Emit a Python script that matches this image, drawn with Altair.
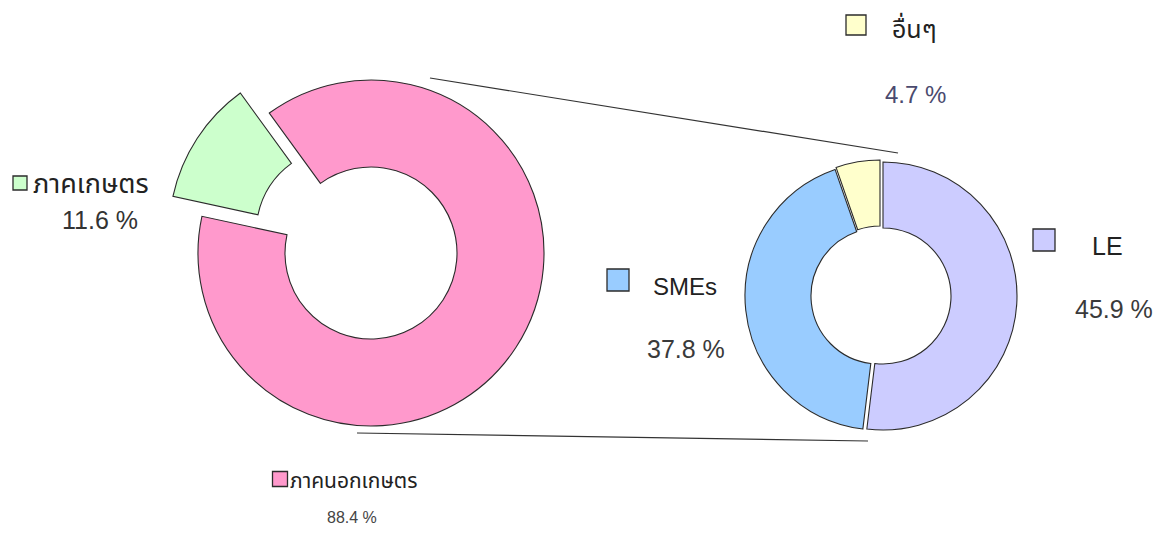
import math
import altair as alt
import pandas as pd

# ---------------- data ----------------
left_cats = ["ภาคนอกเกษตร", "ภาคเกษตร"]
left_vals = [88.4, 11.6]
right_cats = ["LE", "SMEs", "อื่นๆ"]
right_vals = [45.9, 37.8, 4.7]

# ---------------- layout / style (page px minus 8px body margin) ----------------
M = 8
W, H = 1163 - 2 * M, 545 - 2 * M
FONT = "Liberation Sans, Arial, Noto Sans Thai, sans-serif"
STROKE = "#2b2b2b"
colors = {"ภาคนอกเกษตร": "#FF99CC", "ภาคเกษตร": "#CCFFCC",
          "LE": "#CCCCFF", "SMEs": "#99CCFF", "อื่นๆ": "#FFFFCC"}

L_CX, L_CY, L_R, L_R2 = 371 - M, 253 - M, 173, 86
R_CX, R_CY, R_R, R_R2 = 881 - M, 296 - M, 134, 68
L_START = math.radians(-36)
R_START = 0.0
offsets = {"ภาคนอกเกษตร": (0, 0), "ภาคเกษตร": (-29, -20),
           "LE": (2, 0), "SMEs": (-2, 0), "อื่นๆ": (-1, -2)}

# legend layout: square centre, square size, label pos/size, pct pos/size, pct colour
legend_pos = {
    "ภาคเกษตร": ((20, 183), 14, (33, 193), 27, (62, 229), 25, "#333333"),
    "อื่นๆ": ((856, 25), 20, (892, 38), 25, (885, 103), 24, "#4a4a6e"),
    "SMEs": ((618, 280), 22, (653, 295), 24, (647, 358), 25, "#3a3a3a"),
    "LE": ((1044, 240), 22, (1092, 255), 25, (1075, 318), 25, "#3a3a3a"),
    "ภาคนอกเกษตร": ((280, 479), 15, (290, 488), 21, (327, 523), 16, "#444444"),
}
connectors = [((430, 78), (898, 153)), ((357, 433), (868, 441))]


def stacked(cats, vals):
    rows, acc = [], 0.0
    for c, v in zip(cats, vals):
        rows.append({"cat": c, "value": v, "start": acc, "end": acc + v})
        acc += v
    return pd.DataFrame(rows), acc


left_df, left_total = stacked(left_cats, left_vals)
right_df, right_total = stacked(right_cats, right_vals)

layers = []


def donut(df, total, start, cx, cy, r, r2):
    out = []
    for c in df["cat"]:
        dx, dy = offsets[c]
        sub = df[df["cat"] == c]
        ch = alt.Chart(sub).mark_arc(
            x=cx + dx, y=cy + dy, radius=r, radius2=r2,
            fill=colors[c], stroke=STROKE, strokeWidth=1.1,
        ).encode(
            theta=alt.Theta("start:Q", scale=alt.Scale(domain=[0, total], range=[start, start + 2 * math.pi])),
            theta2="end:Q",
        )
        out.append(ch)
    return out


layers += donut(left_df, left_total, L_START, L_CX, L_CY, L_R, L_R2)
layers += donut(right_df, right_total, R_START, R_CX, R_CY, R_R, R_R2)

# connector lines
for (x1, y1), (x2, y2) in connectors:
    layers.append(
        alt.Chart(pd.DataFrame({"k": [0]})).mark_rule(color="#333333", strokeWidth=1.2).encode(
            x=alt.value(x1 - M), y=alt.value(y1 - M), x2=alt.value(x2 - M), y2=alt.value(y2 - M)
        )
    )

# legend items
all_df = pd.concat([left_df, right_df], ignore_index=True)
for _, row in all_df.iterrows():
    c = row["cat"]
    (sx, sy), ss, (tx, ty), tfs, (px, py), pfs, pcol = legend_pos[c]
    one = pd.DataFrame({"cat": [c], "pct": [f"{row['value']:.1f} %"]})
    layers.append(
        alt.Chart(one).mark_rect(
            x=sx - ss / 2 - M, x2=sx + ss / 2 - M, y=sy - ss / 2 - M, y2=sy + ss / 2 - M,
            fill=colors[c], stroke=STROKE, strokeWidth=1.3,
        ).encode(tooltip="cat:N")
    )
    layers.append(
        alt.Chart(one).mark_text(
            x=tx - M, y=ty - M, align="left", baseline="alphabetic",
            font=FONT, fontSize=tfs, color="#222222",
        ).encode(text="cat:N")
    )
    layers.append(
        alt.Chart(one).mark_text(
            x=px - M, y=py - M, align="left", baseline="alphabetic",
            font=FONT, fontSize=pfs, color=pcol,
        ).encode(text="pct:N")
    )

chart = alt.layer(*layers).resolve_scale(theta="independent").properties(
    width=W, height=H, padding=0, autosize=alt.AutoSizeParams(type="none"),
    background="white",
).configure_view(stroke=None)

chart.save("out.html", embed_options={"renderer": "svg", "actions": False})
